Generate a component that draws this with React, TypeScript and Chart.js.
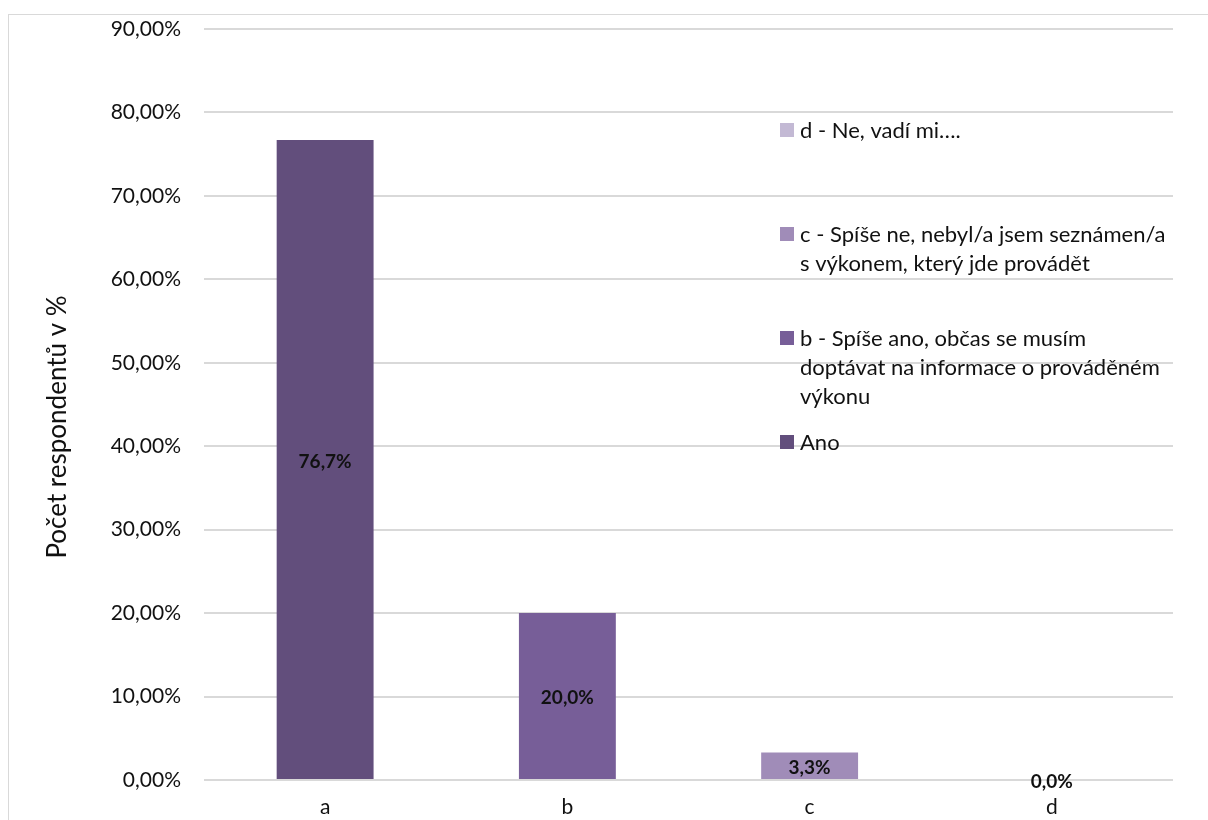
import React, { useEffect, useRef } from "react";
import { Chart, registerables } from "chart.js";

Chart.register(...registerables);

// Categories and survey shares (percent of respondents)
const categories = ["a", "b", "c", "d"];
const values = [76.7, 20.0, 3.3, 0.0];
const barColors = ["#624E7C", "#775E98", "#A08CB8", "#C3B9D4"];

// Legend labels, one entry per category (already wrapped into lines)
const legendLines: string[][] = [
  ["Ano"],
  ["b - Spíše ano, občas se musím", "doptávat na informace o prováděném", "výkonu"],
  ["c - Spíše ne, nebyl/a jsem seznámen/a", "s výkonem, který jde provádět"],
  ["d - Ne, vadí mi…."],
];

const yMin = 0;
const yMax = 90;
const yStep = 10;
const yTitle = "Počet respondentů v %";

const FONT = "Lato, 'Open Sans', sans-serif";
const TEXT = "#111111";
const GRID = "#D9D9D9";

const fmtTick = (v: number) => v.toFixed(2).replace(".", ",") + "%";
const fmtLabel = (v: number) => v.toFixed(1).replace(".", ",") + "%";

// Draws value labels in the middle of each bar, the overlaid legend and the rotated y title
const overlayPlugin = {
  id: "overlay",
  afterDatasetsDraw(chart: any) {
    const ctx = chart.ctx as CanvasRenderingContext2D;
    const meta = chart.getDatasetMeta(0);
    ctx.save();
    ctx.fillStyle = TEXT;
    ctx.font = `bold 19px ${FONT}`;
    ctx.textAlign = "center";
    ctx.textBaseline = "middle";
    meta.data.forEach((bar: any, i: number) => {
      const { x, y, base } = bar.getProps(["x", "y", "base"], true);
      ctx.fillText(fmtLabel(values[i]), x, (y + base) / 2 + 2);
    });

    // legend, listed in reverse order
    const sqX = 771;
    const textX = 791;
    const firstY = 115;
    const itemGap = 104;
    const lineH = 29;
    ctx.font = `22px ${FONT}`;
    ctx.textAlign = "left";
    const order = [3, 2, 1, 0];
    order.forEach((idx, k) => {
      const cy = firstY + k * itemGap;
      ctx.fillStyle = barColors[idx];
      ctx.fillRect(sqX, cy - 7, 14, 14);
      ctx.fillStyle = TEXT;
      legendLines[idx].forEach((line, j) => {
        ctx.fillText(line, textX, cy + j * lineH + 1);
      });
    });

    // y axis title
    ctx.translate(49, 412);
    ctx.rotate(-Math.PI / 2);
    ctx.font = `26px ${FONT}`;
    ctx.textAlign = "center";
    ctx.fillText(yTitle, 0, 0);
    ctx.restore();
  },
};

export default function App() {
  const canvasRef = useRef<HTMLCanvasElement | null>(null);

  useEffect(() => {
    if (!canvasRef.current) return;
    const chart = new Chart(canvasRef.current, {
      type: "bar",
      data: {
        labels: categories,
        datasets: [
          {
            data: values,
            backgroundColor: barColors,
            borderWidth: 0,
            categoryPercentage: 1,
            barPercentage: 0.4,
          },
        ],
      },
      options: {
        responsive: false,
        animation: false,
        layout: { padding: { left: 0, right: 35, top: 14, bottom: 0 } },
        plugins: {
          legend: { display: false },
          tooltip: { enabled: false },
        },
        scales: {
          x: {
            grid: { display: false, drawTicks: false },
            border: { display: false },
            ticks: {
              color: TEXT,
              font: { family: FONT, size: 21 },
              padding: 15,
            },
            afterFit(scale: any) {
              scale.height = 40;
              scale.paddingLeft = 0;
              scale.paddingRight = 0;
            },
          },
          y: {
            min: yMin,
            max: yMax,
            grid: { color: GRID, lineWidth: 2, drawTicks: false },
            border: { display: false },
            ticks: {
              stepSize: yStep,
              color: TEXT,
              font: { family: FONT, size: 21 },
              padding: 23,
              callback: (v: any) => fmtTick(Number(v)),
            },
            afterFit(scale: any) {
              scale.width = 195;
              scale.paddingTop = 0;
              scale.paddingBottom = 0;
            },
          },
        },
      },
      plugins: [overlayPlugin],
    });
    return () => chart.destroy();
  }, []);

  return (
    <div
      style={{
        position: "fixed",
        left: 8,
        top: 14,
        width: 1230,
        height: 830,
        border: "1px solid #D9D9D9",
        background: "#fff",
      }}
    >
      <canvas ref={canvasRef} width={1199} height={805} style={{ display: "block" }} />
    </div>
  );
}
